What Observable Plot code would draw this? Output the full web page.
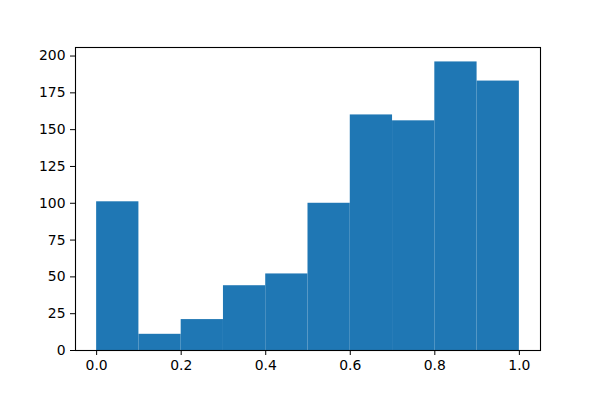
<!DOCTYPE html>
<html>
<head>
<meta charset="utf-8">
<script src="https://cdn.jsdelivr.net/npm/d3@7"></script>
<script src="https://cdn.jsdelivr.net/npm/@observablehq/plot@0.6"></script>
<style>
  html, body { margin: 0; padding: 0; background: #fff; }
  #chart svg { display: block; }
</style>
</head>
<body>
<div id="chart"></div>
<script>
const binStarts = [0.0, 0.1, 0.2, 0.3, 0.4, 0.5, 0.6, 0.7, 0.8, 0.9];
const binEnds   = [0.1, 0.2, 0.3, 0.4, 0.5, 0.6, 0.7, 0.8, 0.9, 1.0];
const counts    = [101, 11, 21, 44, 52, 100, 160, 156, 196, 183];
const xTicks = [0.0, 0.2, 0.4, 0.6, 0.8, 1.0];
const yTicks = [0, 25, 50, 75, 100, 125, 150, 175, 200];

const data = counts.map((c, i) => ({x1: binStarts[i], x2: binEnds[i], y: c}));

const chart = Plot.plot({
  width: 600,
  height: 400,
  marginLeft: 75,
  marginRight: 60,
  marginTop: 47,
  marginBottom: 50,
  style: {fontFamily: "DejaVu Sans", fontSize: "13.9px", color: "#000", background: "#fff"},
  x: {domain: [-0.05, 1.05], ticks: xTicks, tickFormat: d3.format(".1f"), label: null},
  y: {domain: [0, 205.8], ticks: yTicks, label: null},
  marks: [
    Plot.rectY(data, {x1: "x1", x2: "x2", y: "y", fill: "#1f77b4", insetLeft: 0, insetRight: 0}),
    Plot.axisX({ticks: xTicks, tickFormat: d3.format(".1f"), tickSize: 5, tickPadding: 5, stroke: "#000", fontSize: 13.9, label: null}),
    Plot.axisY({ticks: yTicks, tickSize: 5, tickPadding: 5, stroke: "#000", fontSize: 13.9, label: null}),
    Plot.frame({stroke: "#000", strokeWidth: 1.1})
  ]
});
document.getElementById("chart").appendChild(chart);
</script>
</body>
</html>
